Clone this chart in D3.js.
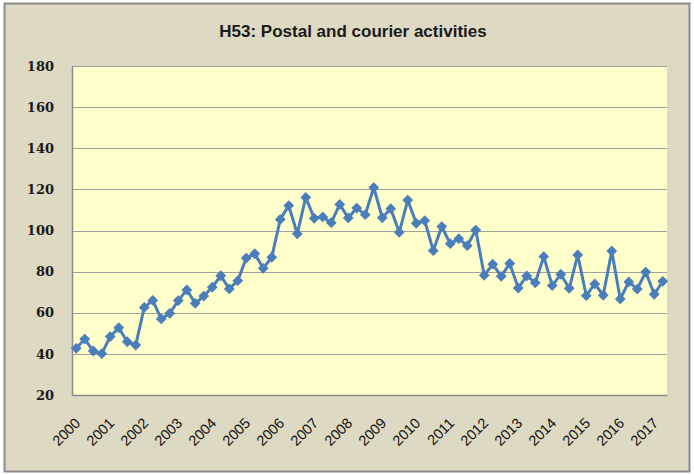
<!DOCTYPE html>
<html>
<head>
<meta charset="utf-8">
<script src="https://cdn.jsdelivr.net/npm/d3@7"></script>
<style>
  body { margin: 0; background: #fff; }
</style>
</head>
<body>
<script>
// chart data (quarterly index, 2000 Q1 - 2017 Q2)
var years = ["2000","2001","2002","2003","2004","2005","2006","2007","2008",
             "2009","2010","2011","2012","2013","2014","2015","2016","2017"];
var quarters = ["Q1","Q2","Q3","Q4"];
var values = [
  42.7, 47.2, 41.4, 40.1,
  48.4, 52.7, 45.9, 44.3,
  62.6, 66.0, 57.0, 59.7,
  65.9, 71.1, 64.6, 68.1,
  72.4, 78.0, 71.6, 75.6,
  86.6, 88.7, 81.6, 87.0,
  105.4, 112.1, 98.4, 116.1,
  105.9, 106.6, 103.8, 112.7,
  106.1, 110.9, 107.7, 120.9,
  106.2, 110.6, 99.1, 114.8,
  103.5, 104.8, 90.2, 101.9,
  93.6, 96.0, 92.6, 100.2,
  78.2, 83.6, 77.7, 84.0,
  72.0, 77.9, 74.6, 87.3,
  73.2, 78.7, 71.9, 88.1,
  68.3, 74.0, 68.5, 90.0,
  66.7, 75.0, 71.5, 79.8,
  69.0, 75.3
];
var yTicks = [20, 40, 60, 80, 100, 120, 140, 160, 180];
var title = "H53: Postal and courier activities";

// category keys, one per value
var cats = [];
years.forEach(function(yr) {
  quarters.forEach(function(q) { cats.push(yr + q); });
});
cats = cats.slice(0, values.length);
var data = values.map(function(v, i) { return {cat: cats[i], v: v}; });

var W = 694, H = 475;
var plot = {left: 72, right: 667, top: 66, bottom: 395};

var svg = d3.select("body").append("svg")
    .attr("width", W)
    .attr("height", H);

// chart background + frame
svg.append("rect")
    .attr("x", 0).attr("y", 0).attr("width", W).attr("height", H)
    .attr("fill", "#ffffff");
svg.append("rect")
    .attr("x", 4.5).attr("y", 3.5).attr("width", 685).attr("height", 468)
    .attr("fill", "#ddd9c3")
    .attr("stroke", "#8c8c8c")
    .attr("stroke-width", 2);

var x = d3.scalePoint()
    .domain(cats)
    .range([plot.left, plot.right])
    .padding(0.5);

var y = d3.scaleLinear()
    .domain([20, 180])
    .range([plot.bottom, plot.top]);

// plot area
svg.append("rect")
    .attr("x", plot.left).attr("y", plot.top)
    .attr("width", plot.right - plot.left)
    .attr("height", plot.bottom - plot.top)
    .attr("fill", "#ffffcc");

// gridlines
svg.append("g")
    .selectAll("line")
    .data(yTicks)
    .enter().append("line")
    .attr("x1", plot.left).attr("x2", plot.right)
    .attr("y1", function(d) { return Math.round(y(d)) + 0.5; })
    .attr("y2", function(d) { return Math.round(y(d)) + 0.5; })
    .attr("stroke", "#a0a0a0")
    .attr("stroke-width", 1.2);

// y axis
var yAxis = d3.axisLeft(y)
    .tickValues(yTicks)
    .tickSize(0)
    .tickPadding(18);
var gy = svg.append("g")
    .attr("transform", "translate(" + plot.left + ",0)")
    .call(yAxis);
gy.select(".domain").attr("stroke", "#8c8c8c").attr("stroke-width", 1.5);
gy.selectAll("text")
    .attr("font-family", "'DejaVu Serif', serif")
    .attr("font-weight", "bold")
    .attr("font-size", "13px")
    .attr("fill", "#1a1a1a");

// x axis line (labels drawn below)
var gx = svg.append("g")
    .attr("transform", "translate(0," + plot.bottom + ")")
    .call(d3.axisBottom(x).tickValues([]).tickSize(0));
gx.select(".domain").attr("stroke", "#8c8c8c").attr("stroke-width", 1.5);

// year labels on every 4th category, rotated
var yearCats = cats.filter(function(c, i) { return i % 4 === 0; });
svg.append("g")
    .selectAll("text")
    .data(yearCats)
    .enter().append("text")
    .attr("transform", function(c) {
      return "translate(" + (x(c) + 5) + "," + (plot.bottom + 29) + ") rotate(-45)";
    })
    .attr("text-anchor", "end")
    .attr("font-family", "'Liberation Sans', Arial, sans-serif")
    .attr("font-size", "14.5px")
    .attr("fill", "#111")
    .text(function(c) { return c.slice(0, 4); });

// line
var line = d3.line()
    .x(function(d) { return x(d.cat); })
    .y(function(d) { return y(d.v); });

svg.append("path")
    .datum(data)
    .attr("d", line)
    .attr("fill", "none")
    .attr("stroke", "#4a7ebb")
    .attr("stroke-width", 3)
    .attr("stroke-linejoin", "round");

// diamond markers
var diamond = d3.symbol().type(d3.symbolSquare).size(44);
svg.append("g")
    .selectAll("path")
    .data(data)
    .enter().append("path")
    .attr("d", diamond)
    .attr("transform", function(d) {
      return "translate(" + x(d.cat) + "," + y(d.v) + ") rotate(45)";
    })
    .attr("fill", "#4a7ebb")
    .attr("stroke", "#4a7ebb")
    .attr("stroke-width", 1);

// title
svg.append("text")
    .attr("x", 353)
    .attr("y", 37)
    .attr("text-anchor", "middle")
    .attr("font-family", "'Liberation Sans', Arial, sans-serif")
    .attr("font-weight", "bold")
    .attr("font-size", "17px")
    .attr("fill", "#1a1a1a")
    .text(title);
</script>
</body>
</html>
